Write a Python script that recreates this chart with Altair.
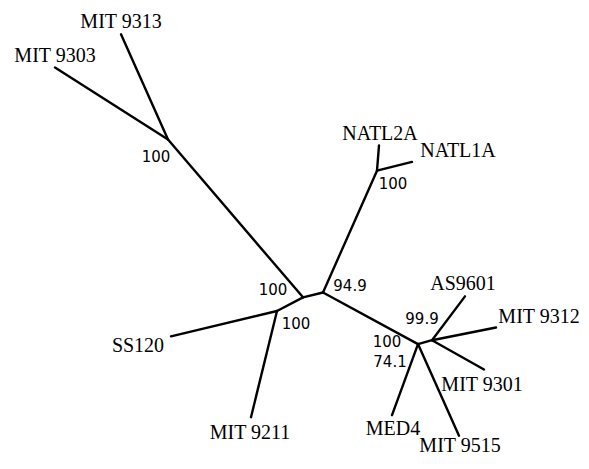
import altair as alt
import pandas as pd

# Tree layout (node positions in layout units)
node_ids = ["A", "B", "C", "D", "N", "E", "F",
            "MIT 9313", "MIT 9303", "NATL2A", "NATL1A", "SS120", "MIT 9211",
            "AS9601", "MIT 9312", "MIT 9301", "MED4", "MIT 9515"]
node_x = [168, 303, 323, 277, 377, 418, 432,
          121, 55, 379, 412, 171, 251,
          465, 496, 484, 392, 459]
node_y = [145, 307, 302, 321, 177, 355, 351,
          37, 71, 151, 168, 347, 430,
          306, 338, 381, 428, 449]

edge_from = ["A", "A", "A", "B", "B", "D", "D", "C", "N", "N", "C", "E", "E", "E", "F", "F", "F"]
edge_to = ["MIT 9313", "MIT 9303", "B", "D", "C", "SS120", "MIT 9211", "N", "NATL2A", "NATL1A",
           "E", "MED4", "MIT 9515", "F", "AS9601", "MIT 9312", "MIT 9301"]

# Taxon labels
taxa = ["MIT 9313", "MIT 9303", "NATL2A", "NATL1A", "SS120", "MIT 9211",
        "AS9601", "MIT 9312", "MIT 9301", "MED4", "MIT 9515"]
taxa_x = [121, 55, 380, 458, 138, 250, 463, 539, 482, 393, 460]
taxa_y = [31, 65, 146, 163, 363, 452, 299, 333, 403, 448, 466]

# Bootstrap support values
support = ["100", "100", "100", "94.9", "100", "99.9", "100", "74.1"]
support_x = [156, 273, 296, 350, 393, 422, 387, 390]
support_y = [168, 305, 339, 301, 196, 334, 358, 379]

pos = dict(zip(node_ids, zip(node_x, node_y)))
edges = pd.DataFrame({
    "x": [pos[a][0] for a in edge_from],
    "y": [pos[a][1] for a in edge_from],
    "x2": [pos[b][0] for b in edge_to],
    "y2": [pos[b][1] for b in edge_to],
})
labels = pd.DataFrame({"name": taxa, "x": taxa_x, "y": taxa_y})
boots = pd.DataFrame({"val": support, "x": support_x, "y": support_y})

xs = alt.Scale(domain=[8, 581], nice=False, zero=False)
ys = alt.Scale(domain=[10, 475], nice=False, zero=False, reverse=True)

branches = alt.Chart(edges).mark_rule(color="black", strokeWidth=2.4, strokeCap="round").encode(
    x=alt.X("x:Q", scale=xs, axis=None),
    y=alt.Y("y:Q", scale=ys, axis=None),
    x2="x2:Q",
    y2="y2:Q",
)

names = alt.Chart(labels).mark_text(
    font="Liberation Serif", fontSize=20, align="center", baseline="alphabetic", color="black"
).encode(
    x=alt.X("x:Q", scale=xs, axis=None),
    y=alt.Y("y:Q", scale=ys, axis=None),
    text="name:N",
)

bs = alt.Chart(boots).mark_text(
    font="DejaVu Sans", fontSize=15, align="center", baseline="alphabetic", color="black"
).encode(
    x=alt.X("x:Q", scale=xs, axis=None),
    y=alt.Y("y:Q", scale=ys, axis=None),
    text="val:N",
)

chart = alt.layer(branches, names, bs).properties(
    width=573, height=453, padding=0, autosize="none"
).configure_view(stroke=None)

chart.save("out.html", embed_options={"renderer": "svg", "actions": False})
